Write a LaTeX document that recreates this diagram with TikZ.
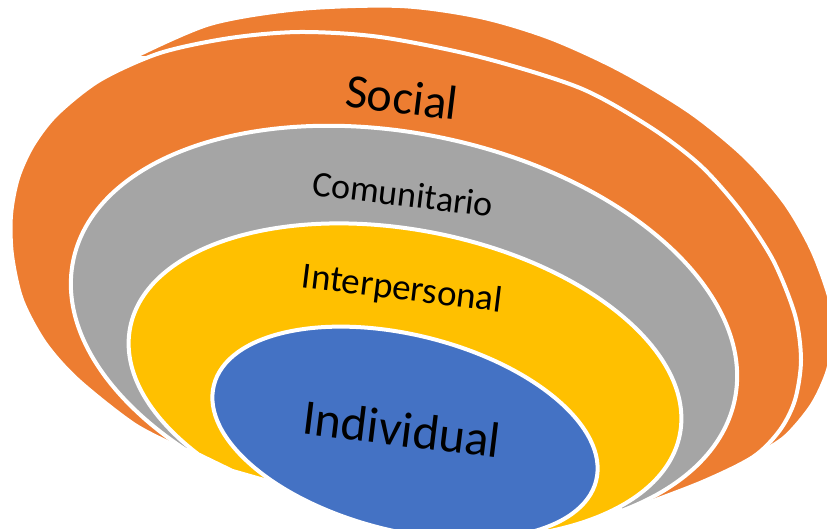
\documentclass[tikz,border=0pt]{standalone}
\usepackage{fontspec}
\setmainfont{Carlito}
\definecolor{sorange}{HTML}{ED7D31}
\definecolor{sgray}{HTML}{A5A5A5}
\definecolor{syellow}{HTML}{FFC000}
\definecolor{sblue}{HTML}{4472C4}
\begin{document}
\begin{tikzpicture}[x=1pt,y=-1pt,
  layer/.style={draw=white,line width=4pt,line join=round},
  lab/.style={text=black,rotate=-7,inner sep=0pt}]
\useasboundingbox (0,0) rectangle (827,529);
\begin{scope}
\clip (0,0) rectangle (827,529);
% back orange crescent
\path[layer,fill=sorange] plot[smooth] coordinates {(132,58) (210,24) (300,9) (400,6) (480,17) (550,38) (620,70) (690,112) (745,157) (785,203) (812,250) (830,300) (833,335) (828,370) (812,405) (785,437) (753,457)} -- (760,300) -- (600,120) -- (300,60) -- cycle;
% main orange (Social)
\path[layer,fill=sorange] plot[smooth] coordinates {(185,450) (135,425) (78,380) (45,343) (22,300) (12,255) (11,215) (18,178) (33,145) (57,114) (100,80) (160,53) (230,38) (300,32) (380,37) (480,57) (580,88) (650,127) (700,165) (740,210) (773,260) (795,315) (801,360) (795,400) (780,430) (753,457) (700,483) (623,512)} -- cycle;
% gray (Comunitario)
\begin{scope}[shift={(404,330)},rotate=-12]
\path[layer,fill=sgray] (0,0) ellipse [x radius=338pt,y radius=196pt];
\end{scope}
% background mask below the yellow ring
\fill[white] (187,447) -- (621,507) -- (645,545) -- (175,545) -- cycle;
% yellow (Interpersonal)
\begin{scope}[shift={(405,381)},rotate=-11]
\path[layer,fill=syellow] (0,0) ellipse [x radius=280pt,y radius=151pt];
\end{scope}
% background mask below the blue ellipse
\fill[white] (200,453) -- (233,469) -- (268,479) -- (545,531) -- (560,545) -- (195,545) -- cycle;
% blue (Individual)
\begin{scope}[shift={(405,433)},rotate=-14]
\path[layer,fill=sblue] (0,0) ellipse [x radius=197pt,y radius=98pt];
\end{scope}
\end{scope}
\node[lab,font=\fontsize{48}{56}\selectfont] (social) at (402,97) {Social};
\node[lab,font=\fontsize{36}{42}\selectfont] (comun) at (403,194) {Comunitario};
\node[lab,font=\fontsize{37}{44}\selectfont] (inter) at (402,290) {Interpersonal};
\node[lab,font=\fontsize{50}{58}\selectfont] (indiv) at (402,429) {Individual};
\end{tikzpicture}
\end{document}
